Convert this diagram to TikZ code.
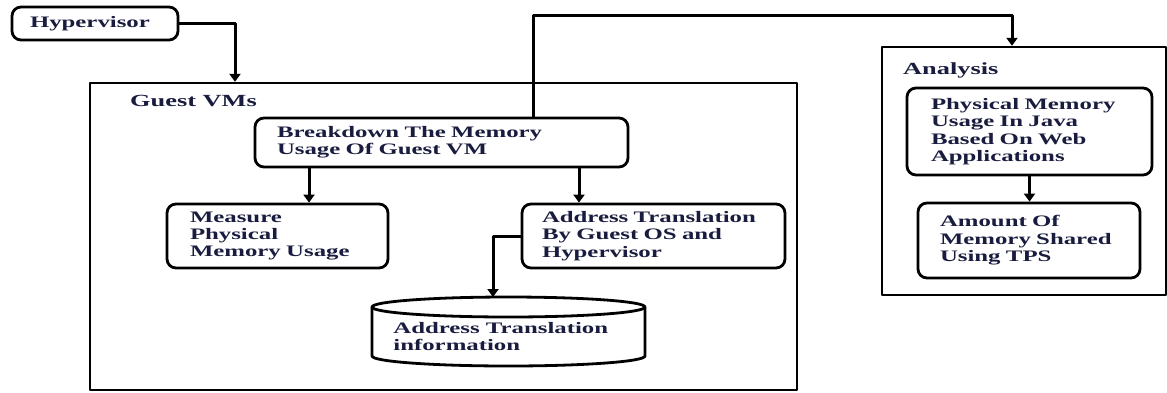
\documentclass[tikz,border=0pt]{standalone}
\usepackage{fontspec}
\newfontfamily\diagfont{Liberation Serif}[FakeStretch=1.55]
\usetikzlibrary{arrows.meta}
\definecolor{textonavy}{RGB}{25,28,62}
\tikzstyle{every path}=[line cap=round, line join=round]
\tikzstyle{caja}=[draw, line width=2.8pt, rounded corners=9pt, align=left, inner ysep=0pt, text=textonavy, font=\diagfont\bfseries\fontsize{16}{17.4}\selectfont]
\tikzstyle{marco}=[draw, line width=2.4pt, inner sep=0pt]
\tikzstyle{titulo}=[anchor=west, inner sep=0pt, text=textonavy, font=\diagfont\bfseries\fontsize{17}{18}\selectfont]
\tikzstyle{flecha}=[line width=3pt, -{Triangle[width=11pt,length=8pt]}]

\begin{document}
\begin{tikzpicture}[x=1pt,y=-1pt]
          \useasboundingbox (0,0) rectangle (1167,392);
          %marcos
          \node[marco, minimum width=707pt, minimum height=307pt] (guest) at (443.5,236.5) {};
          \node[marco, minimum width=284pt, minimum height=248pt] (ana) at (1024,171) {};
          \node[titulo] (lguest) at (130,101) {Guest VMs};
          \node[titulo] (lana) at (903,70) {Analysis};
          %cajas
          \node[caja, minimum height=33pt, inner xsep=18pt, text width=130pt] (hyp) at (95,23.5) {Hypervisor};
          \node[caja, minimum height=49pt, inner xsep=22pt, text width=329pt] (brk) at (441.5,142.5) {Breakdown The Memory\\Usage Of Guest VM};
          \node[caja, minimum height=64pt, inner xsep=23pt, text width=175pt] (meas) at (277.5,236) {Measure\\Physical\\Memory Usage};
          \node[caja, minimum height=64pt, inner xsep=20pt, text width=223pt] (addr) at (653.5,236) {Address Translation\\By Guest OS and\\Hypervisor};
          \node[caja, minimum height=87pt, inner xsep=24pt, text width=197pt] (phys) at (1029.5,131.5) {Physical Memory\\Usage In Java\\Based On Web\\Applications};
          \node[caja, minimum height=75pt, inner xsep=22pt, text width=178pt] (amt) at (1029,240.5) {Amount Of\\Memory Shared\\Using TPS};
          %base de datos
          \draw[line width=2.8pt] (372,307) -- (372,356) arc[start angle=180, end angle=360, x radius=136.5pt, y radius=10pt] -- (645,307);
          \draw[line width=2.8pt] (508.5,307) ellipse [x radius=136.5pt, y radius=10pt];
          \coordinate (dbtop) at (493,297);
          \node[caja, draw=none, anchor=west, inner sep=0pt] (db) at (392,336.5) {Address Translation\\information};
          %flechas
          \draw[flecha] (hyp.east) -| (235,0 |- guest.north);
          \draw[flecha] (brk.north -| 533,0) |- (1012,15) -- (1012,0 |- ana.north);
          \draw[flecha] (brk.south -| 309,0) -- (309,0 |- meas.north);
          \draw[flecha] (brk.south -| 579,0) -- (579,0 |- addr.north);
          \draw[flecha] (addr.west) -| (dbtop);
          \draw[flecha] (phys.south) -- (phys.south |- amt.north);
        \end{tikzpicture}
\end{document}
